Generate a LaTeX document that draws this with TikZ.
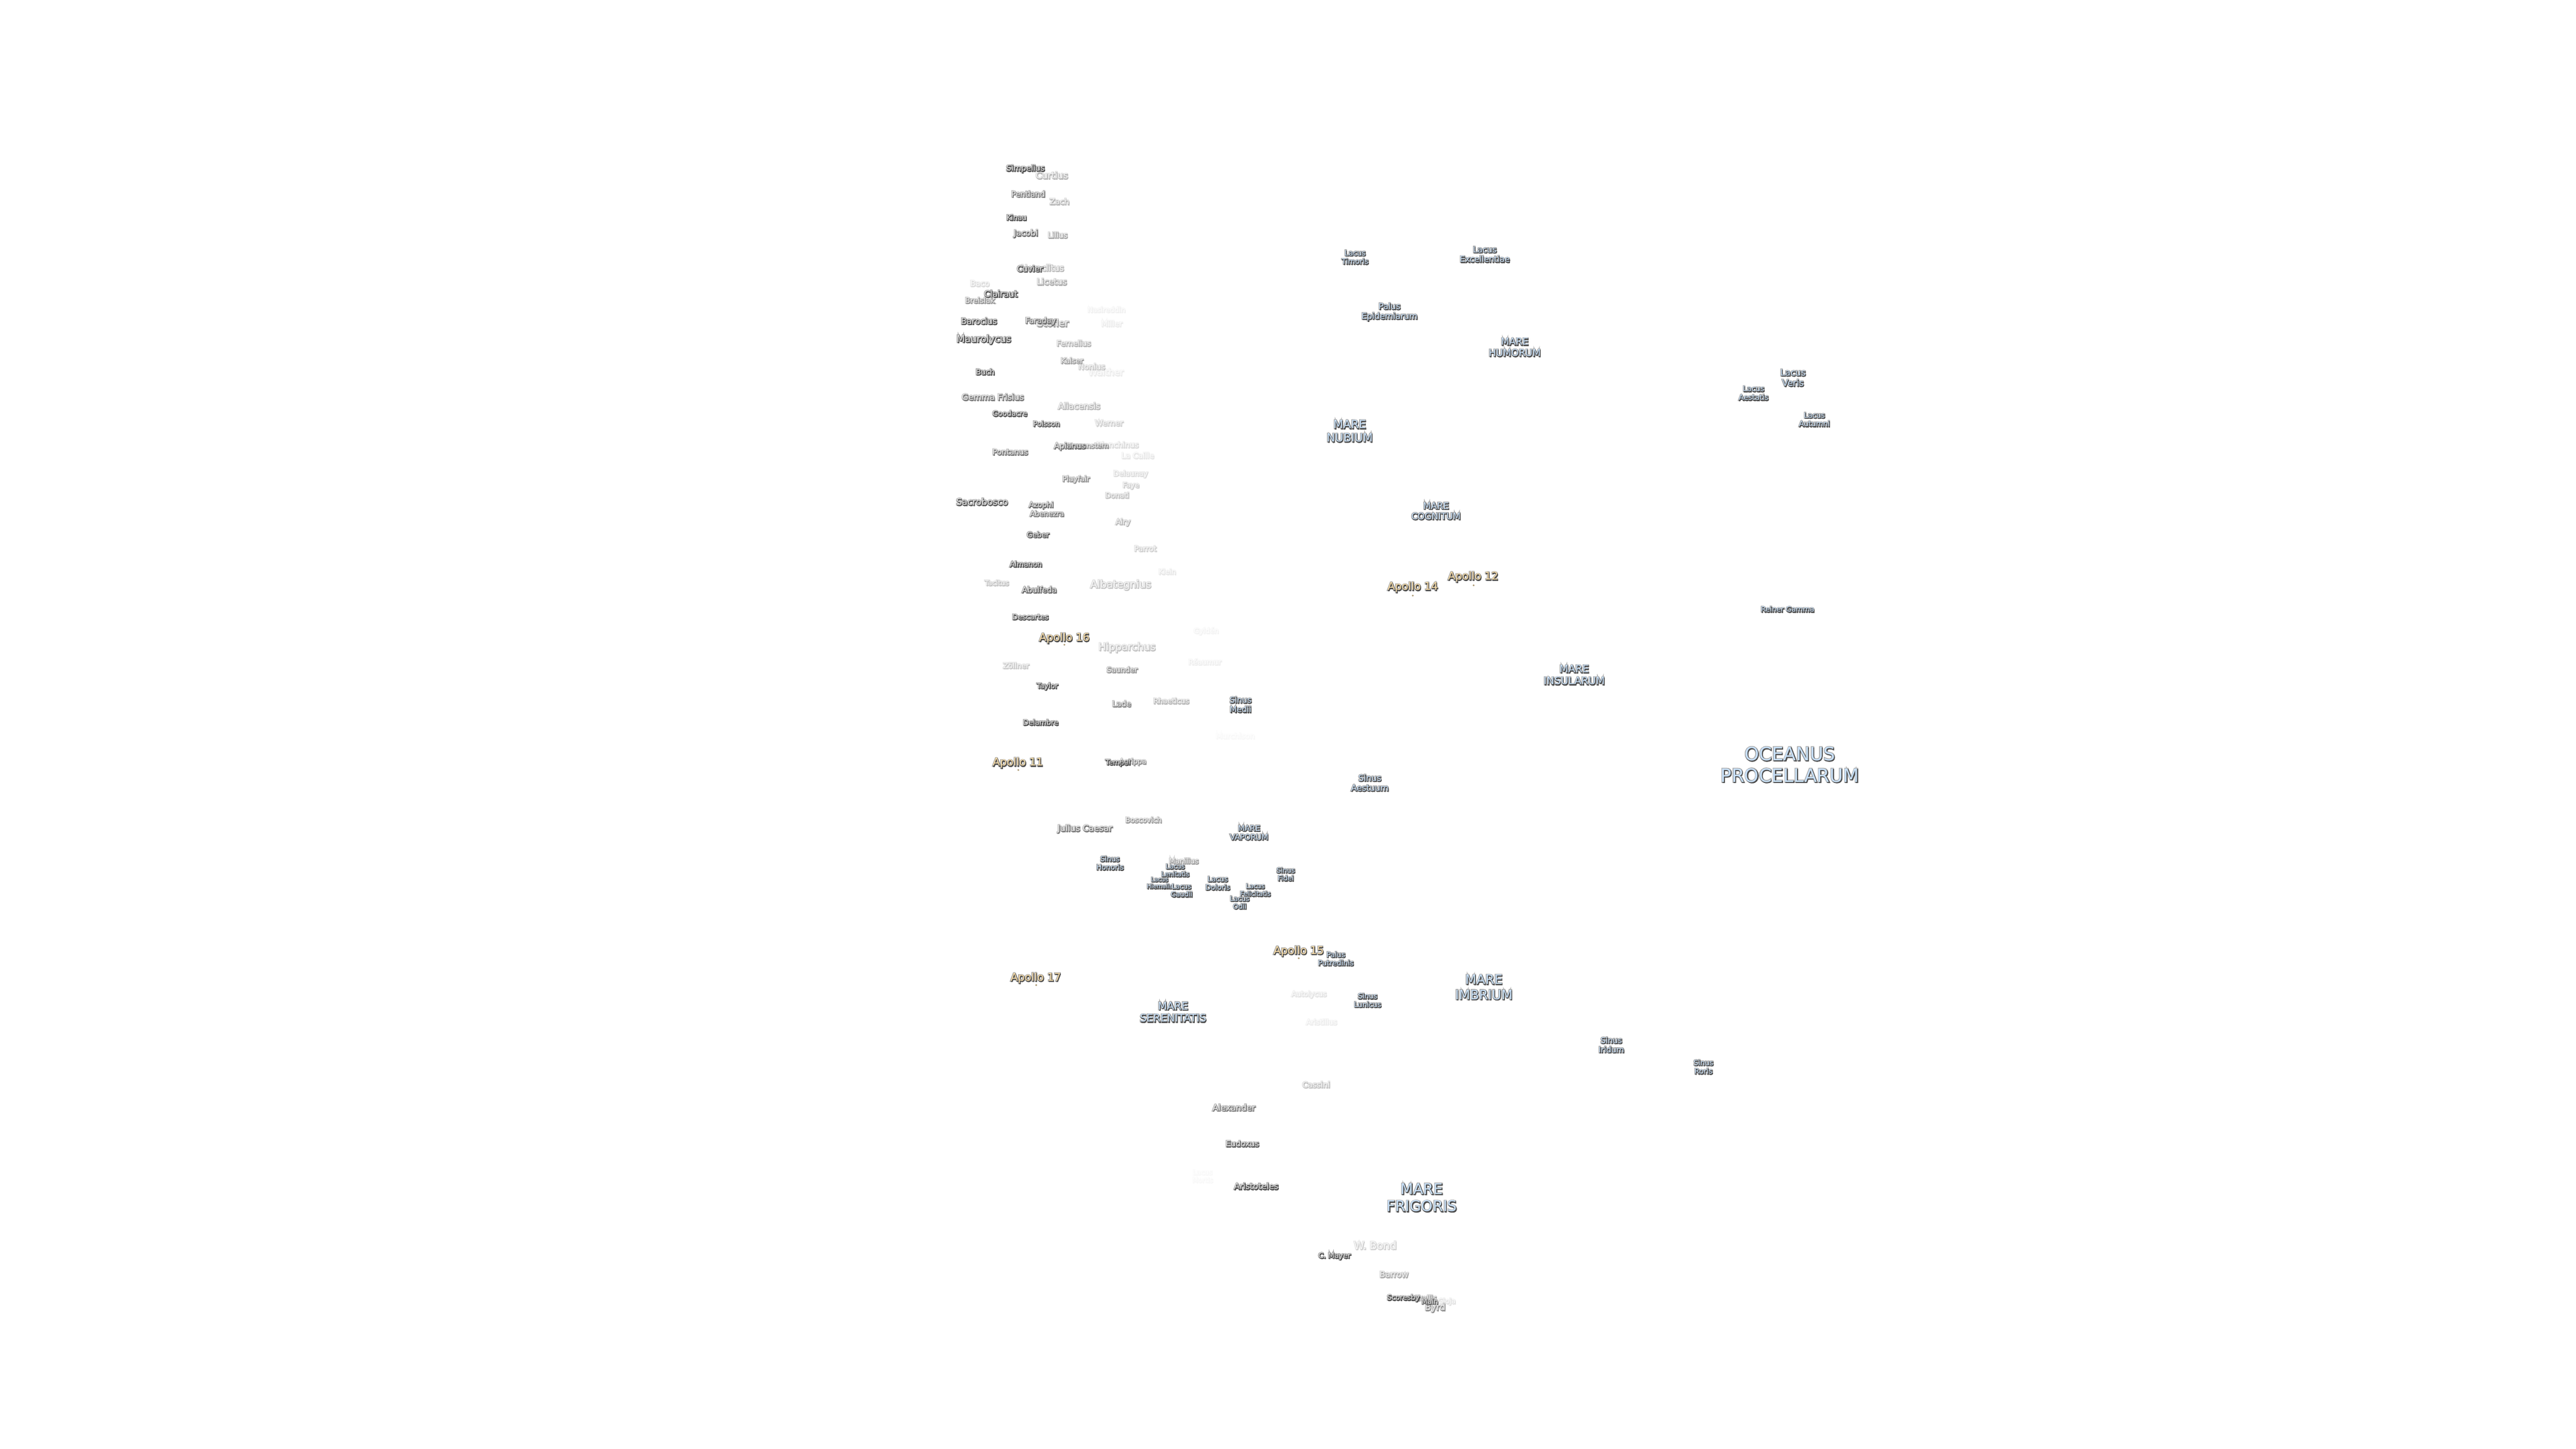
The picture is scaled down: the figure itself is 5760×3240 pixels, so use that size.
\documentclass[tikz,border=0pt]{standalone}
\usepackage{fontspec}
\newfontfamily\lblfont{DejaVu Sans}
\definecolor{craterfill}{HTML}{E2E2E2}
\definecolor{marefill}{HTML}{C8E0F8}
\definecolor{apollofill}{HTML}{F9DDA8}
\definecolor{lblhalo}{HTML}{A6A6A6}
\definecolor{lblshadow}{HTML}{4E4E4E}
\newcommand{\lblsize}[1]{\lblfont\fontsize{#1pt}{#1\dimexpr1.17pt\relax}\selectfont\pgfmathsetmacro\haloweight{.36/#1*100}\pgfmathsetmacro\edgeweight{.14/#1*100}}
\newcommand{\lblbox}[1]{\begin{tabular}{@{}c@{}}#1\end{tabular}}
\newcommand{\shd}[1]{\leavevmode\rlap{\addfontfeature{FakeBold=\haloweight}\color{lblhalo}\lblbox{#1}}\rlap{\kern.12pt\raisebox{-.16pt}{\addfontfeature{FakeBold=\edgeweight}\color{lblshadow}\lblbox{#1}}}\lblbox{#1}}
\newcommand{\faded}[2]{\pgfmathsetmacro\fadeop{min(1,#1*1.35)}\begin{scope}[transparency group, opacity=\fadeop]#2\end{scope}}
\tikzset{
    crater/.style={inner sep=0pt, yshift=-.3pt, text=craterfill, font=\lblsize{#1}},
    mare/.style={inner sep=0pt, yshift=-.3pt, text=marefill, font=\lblsize{#1}},
    apollo/.style={inner sep=0pt, yshift=-.3pt, text=apollofill, font=\lblsize{2.4}},
    apollodot/.style={circle, inner sep=0pt, minimum size=.45pt, fill=apollofill!70!black}
}
\begin{document}
\begin{tikzpicture}[x=0.1pt, y=-0.1pt]
    \useasboundingbox (0,0) rectangle (5760,3240);

    \faded{.85}{\node[crater=1.77] (simpelius) at (2293,377) {\shd{Simpelius}};}
    \faded{.3}{\node[crater=2.02] (curtius) at (2352,393) {\shd{Curtius}};}
    \faded{.55}{\node[crater=1.73] (pentland) at (2299,435) {\shd{Pentland}};}
    \faded{.3}{\node[crater=1.77] (zach) at (2369,452) {\shd{Zach}};}
    \faded{.9}{\node[crater=1.6] (kinau) at (2273,488) {\shd{Kinau}};}
    \faded{.6}{\node[crater=1.81] (jacobi) at (2294,522) {\shd{Jacobi}};}
    \faded{.35}{\node[crater=1.73] (lilius) at (2365,527) {\shd{Lilius}};}
    \faded{.3}{\node[crater=1.9] (heraclitus) at (2331,600) {\shd{Heraclitus}};}
    \faded{.7}{\node[crater=1.8] (cuvier) at (2303,602) {\shd{Cuvier}};}
    \faded{.15}{\node[crater=1.75] (baco) at (2191,635) {\shd{Baco}};}
    \faded{.35}{\node[crater=1.89] (licetus) at (2352,631) {\shd{Licetus}};}
    \faded{.75}{\node[crater=1.91] (clairaut) at (2238,658) {\shd{Clairaut}};}
    \faded{.45}{\node[crater=1.66] (breislak) at (2191,673) {\shd{Breislak}};}
    \faded{.06}{\node[crater=1.58] (nasireddin) at (2474,694) {\shd{Nasireddin}};}
    \faded{.85}{\node[crater=1.88] (barocius) at (2189,719) {\shd{Barocius}};}
    \faded{.4}{\node[crater=2.15] (stofler) at (2354,723) {\shd{Stöfler}};}
    \faded{.55}{\node[crater=1.73] (faraday) at (2327,718) {\shd{Faraday}};}
    \faded{.08}{\node[crater=1.73] (miller) at (2486,725) {\shd{Miller}};}
    \faded{.75}{\node[crater=2.14] (maurolycus) at (2200,758) {\shd{Maurolycus}};}
    \faded{.3}{\node[crater=1.71] (fernelius) at (2401,769) {\shd{Fernelius}};}
    \faded{.4}{\node[crater=1.62] (kaiser) at (2397,808) {\shd{Kaiser}};}
    \faded{.22}{\node[crater=1.75] (nonius) at (2441,821) {\shd{Nonius}};}
    \faded{.85}{\node[crater=1.68] (buch) at (2203,833) {\shd{Buch}};}
    \faded{.08}{\node[crater=2.03] (walther) at (2473,833) {\shd{Walther}};}

    \faded{.55}{\node[crater=1.87] (gemma) at (2220,889) {\shd{Gemma Frisius}};}
    \faded{.7}{\node[crater=1.62] (goodacre) at (2258,926) {\shd{Goodacre}};}
    \faded{.65}{\node[crater=1.59] (poisson) at (2340,949) {\shd{Poisson}};}
    \faded{.3}{\node[crater=1.89] (aliacensis) at (2413,909) {\shd{Aliacensis}};}
    \faded{.2}{\node[crater=1.74] (werner) at (2480,947) {\shd{Werner}};}
    \faded{.55}{\node[crater=1.72] (pontanus) at (2259,1012) {\shd{Pontanus}};}
    \faded{.4}{\node[crater=1.56] (krusenstern) at (2432,998) {\shd{Krusenstern}};}
    \faded{.55}{\node[crater=1.75] (apianus) at (2392,998) {\shd{Apianus}};}
    \faded{.15}{\node[crater=1.72] (blanchinus) at (2499,996) {\shd{Blanchinus}};}
    \faded{.1}{\node[crater=1.72] (lacaille) at (2544,1020) {\shd{La Caille}};}
    \faded{.15}{\node[crater=1.62] (delaunay) at (2528,1060) {\shd{Delaunay}};}
    \faded{.45}{\node[crater=1.63] (playfair) at (2406,1072) {\shd{Playfair}};}
    \faded{.2}{\node[crater=1.59] (faye) at (2529,1086) {\shd{Faye}};}
    \faded{.25}{\node[crater=1.61] (donati) at (2498,1109) {\shd{Donati}};}
    \faded{.7}{\node[crater=2.02] (sacrobosco) at (2196,1123) {\shd{Sacrobosco}};}
    \faded{.6}{\node[crater=1.63] (azophi) at (2328,1130) {\shd{Azophi}};}
    \faded{.55}{\node[crater=1.61] (abenezra) at (2341,1150) {\shd{Abenezra}};}
    \faded{.3}{\node[crater=1.68] (airy) at (2511,1168) {\shd{Airy}};}
    \faded{.7}{\node[crater=1.64] (geber) at (2321,1197) {\shd{Geber}};}
    \faded{.2}{\node[crater=1.68] (parrot) at (2561,1228) {\shd{Parrot}};}
    \faded{.8}{\node[crater=1.63] (almanon) at (2294,1263) {\shd{Almanon}};}
    \faded{.1}{\node[crater=1.58] (klein) at (2610,1280) {\shd{Klein}};}
    \faded{.25}{\node[crater=1.56] (tacitus) at (2229,1305) {\shd{Tacitus}};}
    \faded{.65}{\node[crater=1.75] (abulfeda) at (2324,1320) {\shd{Abulfeda}};}
    \faded{.25}{\node[crater=2.3] (albategnius) at (2506,1307) {\shd{Albategnius}};}

    \faded{.7}{\node[crater=1.62] (descartes) at (2304,1381) {\shd{Descartes}};}
    \faded{.25}{\node[crater=2.26] (hipparchus) at (2520,1447) {\shd{Hipparchus}};}
    \faded{.05}{\node[crater=1.59] (gylden) at (2697,1412) {\shd{Gyldén}};}
    \faded{.07}{\node[crater=1.62] (reaumur) at (2694,1482) {\shd{Réaumur}};}
    \faded{.22}{\node[crater=1.65] (zollner) at (2272,1490) {\shd{Zöllner}};}
    \faded{.45}{\node[crater=1.65] (saunder) at (2509,1499) {\shd{Saunder}};}
    \faded{.85}{\node[crater=1.6] (taylor) at (2342,1535) {\shd{Taylor}};}
    \faded{.5}{\node[crater=1.74] (lade) at (2508,1575) {\shd{Lade}};}
    \faded{.3}{\node[crater=1.62] (rhaeticus) at (2619,1569) {\shd{Rhaeticus}};}
    \faded{.85}{\node[crater=1.61] (delambre) at (2327,1617) {\shd{Delambre}};}
    \faded{.03}{\node[crater=1.7] (murchison) at (2762,1647) {\shd{Murchison}};}
    \faded{.75}{\node[crater=1.56] (tempel) at (2500,1706) {\shd{Tempel}};}
    \faded{.45}{\node[crater=1.55] (agrippa) at (2533,1704) {\shd{Agrippa}};}
    \faded{.4}{\node[crater=1.61] (boscovich) at (2557,1835) {\shd{Boscovich}};}
    \faded{.55}{\node[crater=1.9] (julius) at (2426,1853) {\shd{Julius Caesar}};}
    \faded{.4}{\node[crater=1.61] (manilius) at (2647,1927) {\shd{Manilius}};}
    \faded{.12}{\node[crater=1.6] (autolycus) at (2927,2224) {\shd{Autolycus}};}
    \faded{.08}{\node[crater=1.61] (aristillus) at (2955,2287) {\shd{Aristillus}};}
    \faded{.25}{\node[crater=1.75] (cassini) at (2943,2427) {\shd{Cassini}};}
    \faded{.55}{\node[crater=1.89] (alexander) at (2759,2478) {\shd{Alexander}};}
    \faded{.65}{\node[crater=1.76] (eudoxus) at (2778,2559) {\shd{Eudoxus}};}
    \faded{.03}{\node[crater=1.5] (lacusmortis) at (2689,2630) {\shd{Lacus\\Mortis}};}
    \faded{.9}{\node[crater=1.86] (aristoteles) at (2809,2654) {\shd{Aristoteles}};}
    \faded{.2}{\node[crater=2.34] (wbond) at (3075,2786) {\shd{W. Bond}};}
    \faded{.9}{\node[crater=1.63] (cmayer) at (2984,2809) {\shd{C. Mayer}};}
    \faded{.35}{\node[crater=1.83] (barrow) at (3117,2851) {\shd{Barrow}};}
    \faded{.4}{\node[crater=1.6] (challis) at (3186,2904) {\shd{Challis}};}
    \faded{.75}{\node[crater=1.6] (scoresby) at (3138,2903) {\shd{Scoresby}};}
    \faded{.12}{\node[crater=1.56] (gioja) at (3235,2911) {\shd{Gioja}};}
    \faded{.45}{\node[crater=1.98] (byrd) at (3209,2924) {\shd{Byrd}};}
    \faded{.65}{\node[crater=1.55] (main) at (3197,2912) {\shd{Main}};}

    \node[mare=1.8] (medii) at (2774,1576) {\shd{Sinus\\Medii}};
    \node[mare=1.72] (vaporum) at (2793,1862) {\shd{MARE\\VAPORUM}};
    \node[mare=1.6] (honoris) at (2482,1930) {\shd{Sinus\\Honoris}};
    \node[mare=1.47] (lenitatis) at (2628,1946) {\shd{Lacus\\Lenitatis}};
    \node[mare=1.32] (hiemalis) at (2593,1974) {\shd{Lacus\\Hiemalis}};
    \node[mare=1.5] (gaudii) at (2642,1991) {\shd{Lacus\\Gaudii}};
    \node[mare=1.58] (doloris) at (2723,1975) {\shd{Lacus\\Doloris}};
    \node[mare=1.45] (felicitatis) at (2807,1990) {\shd{Lacus\\Felicitatis}};
    \node[mare=1.5] (odii) at (2772,2018) {\shd{Lacus\\Odii}};
    \node[mare=1.52] (fidei) at (2875,1955) {\shd{Sinus\\Fidei}};
    \node[mare=1.6] (putredinis) at (2987,2144) {\shd{Palus\\Putredinis}};
    \node[mare=2.35] (serenitatis) at (2623,2264) {\shd{MARE\\SERENITATIS}};
    \node[mare=2.9] (imbrium) at (3318,2209) {\shd{MARE\\IMBRIUM}};
    \node[mare=1.6] (lunicus) at (3058,2237) {\shd{Sinus\\Lunicus}};
    \node[mare=3.3] (frigoris) at (3179,2680) {\shd{MARE\\FRIGORIS}};
    \node[mare=1.63] (timoris) at (3030,575) {\shd{Lacus\\Timoris}};
    \node[mare=1.84] (excellentiae) at (3320,569) {\shd{Lacus\\Excellentiae}};
    \node[mare=1.87] (epidemiarum) at (3107,696) {\shd{Palus\\Epidemiarum}};
    \node[mare=2.14] (humorum) at (3387,777) {\shd{MARE\\HUMORUM}};
    \node[mare=1.98] (veris) at (4009,845) {\shd{Lacus\\Veris}};
    \node[mare=1.66] (aestatis) at (3921,879) {\shd{Lacus\\Aestatis}};
    \node[mare=1.63] (autumni) at (4057,938) {\shd{Lacus\\Autumni}};
    \node[mare=2.54] (nubium) at (3018,965) {\shd{MARE\\NUBIUM}};
    \node[mare=2.0] (cognitum) at (3211,1143) {\shd{MARE\\COGNITUM}};
    \node[mare=1.6] (reiner) at (3997,1364) {\shd{Reiner Gamma}};
    \node[mare=2.29] (insularum) at (3520,1510) {\shd{MARE\\INSULARUM}};
    \node[mare=4.12] (procellarum) at (4002,1713) {\shd{OCEANUS\\PROCELLARUM}};
    \node[mare=1.89] (aestuum) at (3063,1751) {\shd{Sinus\\Aestuum}};
    \node[mare=1.77] (iridum) at (3603,2337) {\shd{Sinus\\Iridum}};
    \node[mare=1.63] (roris) at (3809,2386) {\shd{Sinus\\Roris}};

    \node[apollo] (apollo16) at (2380,1426) {\shd{Apollo 16}};
    \node[apollodot] (dot16) at (2380,1442) {};
    \node[apollo] (apollo11) at (2276,1705) {\shd{Apollo 11}};
    \node[apollodot] (dot11) at (2277,1722) {};
    \node[apollo] (apollo15) at (2904,2126) {\shd{Apollo 15}};
    \node[apollodot] (dot15) at (2904,2143) {};
    \node[apollo] (apollo17) at (2316,2186) {\shd{Apollo 17}};
    \node[apollodot] (dot17) at (2317,2203) {};
    \node[apollo] (apollo12) at (3294,1289) {\shd{Apollo 12}};
    \node[apollodot] (dot12) at (3295,1309) {};
    \node[apollo] (apollo14) at (3159,1312) {\shd{Apollo 14}};
    \node[apollodot] (dot14) at (3159,1332) {};
\end{tikzpicture}
\end{document}
